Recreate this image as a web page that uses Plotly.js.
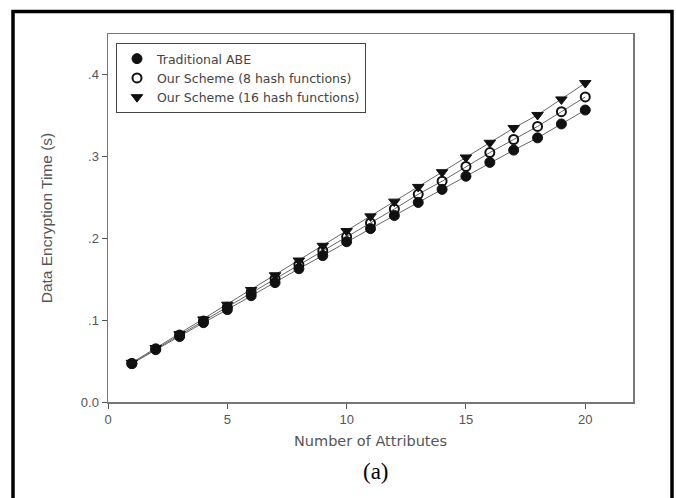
<!DOCTYPE html>
<html>
<head>
<meta charset="utf-8">
<script src="https://cdn.plot.ly/plotly-3.0.1.min.js"></script>
<style>
html,body{margin:0;padding:0;background:#fff;}
#chart{width:676px;height:498px;}
</style>
</head>
<body>
<div id="chart"></div>
<script>
const attributes = [1,2,3,4,5,6,7,8,9,10,11,12,13,14,15,16,17,18,19,20];
const traditionalABE = [0.047,0.064,0.080,0.097,0.113,0.130,0.146,0.163,0.179,0.196,0.212,0.228,0.244,0.260,0.276,0.293,0.308,0.323,0.340,0.357];
const scheme8Hash = [0.047,0.065,0.082,0.099,0.116,0.134,0.151,0.168,0.185,0.202,0.219,0.236,0.254,0.270,0.288,0.305,0.321,0.337,0.355,0.373];
const scheme16Hash = [0.048,0.066,0.083,0.101,0.119,0.137,0.155,0.173,0.191,0.209,0.227,0.245,0.263,0.281,0.299,0.317,0.335,0.351,0.370,0.390];
const seriesNames = ["Traditional ABE","Our Scheme (8 hash functions)","Our Scheme (16 hash functions)"];
const xTickVals = [0,5,10,15,20];
const xTickText = ["0","5","10","15","20"];
const yTickVals = [0,0.1,0.2,0.3,0.4];
const yTickText = ["0.0",".1",".2",".3",".4"];

const M = {l:108, r:43, t:34, b:96};
const W = 676, H = 498;
const pw = W - M.l - M.r, ph = H - M.t - M.b;
const px = v => (v - M.l) / pw;
const py = v => (H - M.b - v) / ph;

const lineStyle = {color:'#666', width:1};
const series = [traditionalABE, scheme8Hash, scheme16Hash];
const markers = [
  {symbol:'circle', size:10, color:'#111', line:{color:'#111', width:1}},
  {symbol:'circle-open', size:9, color:'#111', line:{color:'#111', width:2}},
  {symbol:'triangle-down', size:10, color:'#111', line:{color:'#111', width:1}}
];
const traces = [];
series.forEach((s,i)=>{
  traces.push({x:attributes, y:s, mode:'lines', line:lineStyle, showlegend:false, hoverinfo:'skip'});
});
series.forEach((s,i)=>{
  traces.push({x:attributes, y:s, mode:'markers', name:seriesNames[i], marker:markers[i]});
});

const axisFont = {family:'Liberation Sans, Arial, sans-serif', size:13, color:'#555'};
const layout = {
  width:W, height:H,
  margin:M,
  paper_bgcolor:'#fff', plot_bgcolor:'#fff',
  showlegend:true,
  legend:{x:px(116), y:py(43), xanchor:'left', yanchor:'top',
    bgcolor:'#fff', bordercolor:'#444', borderwidth:1,
    font:{family:'DejaVu Sans, sans-serif', size:12.5, color:'#444'},
    itemwidth:30},
  xaxis:{range:[0,22], tickvals:xTickVals, ticktext:xTickText,
    showline:true, linecolor:'#777', linewidth:1.5, mirror:true,
    ticks:'outside', ticklen:5, tickcolor:'#555', showgrid:false, zeroline:false,
    tickfont:axisFont,
    title:{text:'Number of Attributes', font:{family:'DejaVu Sans, sans-serif', size:14.5, color:'#555'}, standoff:10}},
  yaxis:{range:[0,0.45], tickvals:yTickVals, ticktext:yTickText,
    showline:true, linecolor:'#777', linewidth:1.5, mirror:true,
    ticks:'outside', ticklen:5, tickcolor:'#555', showgrid:false, zeroline:false,
    tickfont:axisFont,
    title:{text:'Data Encryption Time (s)', font:{family:'Liberation Sans, Arial, sans-serif', size:15.5, color:'#555'}, standoff:24}},
  shapes:[
    {type:'rect', xref:'paper', yref:'paper', x0:px(13), x1:px(672), y0:py(11.5), y1:py(520),
     line:{color:'#000', width:3.5}, fillcolor:'rgba(0,0,0,0)', layer:'above'}
  ],
  annotations:[
    {text:'(a)', xref:'paper', yref:'paper', x:px(376), y:py(471), xanchor:'center', yanchor:'middle',
     showarrow:false, font:{family:'Liberation Serif, Times New Roman, serif', size:23, color:'#000'}}
  ]
};
Plotly.newPlot('chart', traces, layout, {displayModeBar:false, staticPlot:true});
</script>
</body>
</html>
